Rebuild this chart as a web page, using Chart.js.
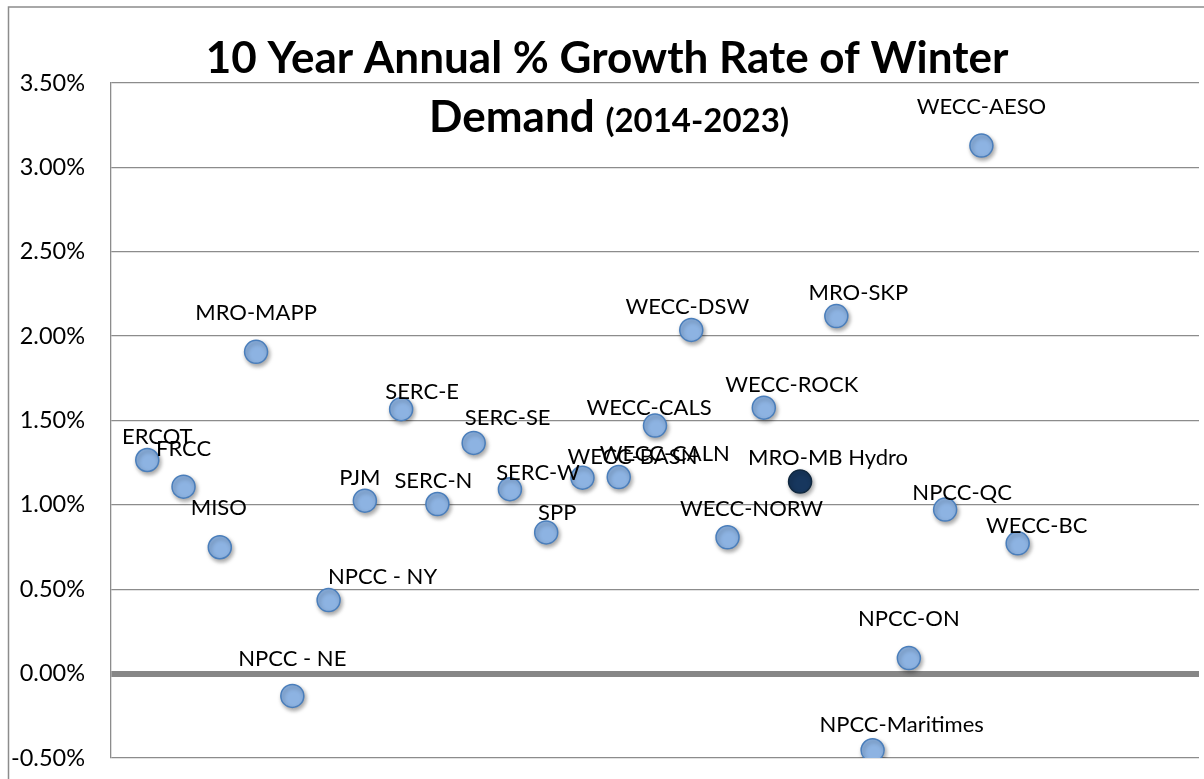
<!DOCTYPE html>
<html>
<head>
<meta charset="utf-8">
<script src="https://cdn.jsdelivr.net/npm/chart.js@4/dist/chart.umd.min.js"></script>
<style>
  html, body { margin: 0; padding: 0; background: #ffffff; overflow: hidden; }
  #c { display: block; }
</style>
</head>
<body>
<canvas id="c" width="1204" height="779"></canvas>
<script>
// ---- data ----
const categories = ['ERCOT','FRCC','MISO','MRO-MAPP','NPCC - NE','NPCC - NY','PJM','SERC-E','SERC-N','SERC-SE','SERC-W','SPP','WECC-BASN','WECC-CALN','WECC-CALS','WECC-DSW','WECC-NORW','WECC-ROCK','MRO-MB Hydro','MRO-SKP','NPCC-Maritimes','NPCC-ON','NPCC-QC','WECC-AESO','WECC-BC'];
const xPositions = [1,2,3,4,5,6,7,8,9,10,11,12,13,14,15,16,17,18,19,20,21,22,23,24,25];
const growthRates = [1.266,1.108,0.749,1.907,-0.132,0.436,1.025,1.567,1.005,1.367,1.093,0.837,1.161,1.165,1.470,2.037,0.808,1.576,1.138,2.119,-0.454,0.092,0.972,3.129,0.772];
const highlighted = ['MRO-MB Hydro'];
const titleLine1 = '10 Year Annual % Growth Rate of Winter';
const titleLine2a = 'Demand ';
const titleLine2b = '(2014-2023)';

// ---- label placement (style, not data) ----
const labelOffsets = [[10,-24],[0,-39],[-1,-40],[0,-40],[0,-38],[54,-24],[-5,-24],[21,-18],[-4,-24],[34,-26],[28,-17],[11,-20],[50,-22],[46,-24],[-6,-19],[-4,-24],[24,-29],[28,-24],[28,-25],[22,-24],[29,-26],[0,-40],[17,-18],[0,-40],[19,-18]];

const FONT = 'Lato, "Open Sans", sans-serif';
const LIGHT_FILL = '#8DB3E2', LIGHT_BORDER = '#4A7EBB';
const DARK_FILL = '#17375E', DARK_BORDER = '#10283F';

const points = xPositions.map((x, i) => ({ x: x, y: growthRates[i] }));

const framePlugin = {
  id: 'frame',
  beforeDraw(chart) {
    const ctx = chart.ctx;
    ctx.save();
    ctx.strokeStyle = '#8C8C8C';
    ctx.lineWidth = 1.5;
    ctx.beginPath();
    ctx.moveTo(8.5, chart.height + 2);
    ctx.lineTo(8.5, 7);
    ctx.lineTo(chart.width + 2, 7);
    ctx.stroke();
    ctx.restore();
  }
};

const shadowPlugin = {
  id: 'shadow',
  beforeDatasetsDraw(chart) {
    const ctx = chart.ctx;
    ctx.save();
    ctx.shadowColor = 'rgba(0,0,0,0.35)';
    ctx.shadowBlur = 4;
    ctx.shadowOffsetX = 1.5;
    ctx.shadowOffsetY = 2.5;
  },
  afterDatasetsDraw(chart) {
    chart.ctx.restore();
  }
};

const labelPlugin = {
  id: 'pointLabels',
  afterDatasetsDraw(chart) {
    const ctx = chart.ctx;
    const meta = chart.getDatasetMeta(0);
    ctx.save();
    ctx.font = '22px ' + FONT;
    ctx.fillStyle = '#000000';
    ctx.textAlign = 'center';
    ctx.textBaseline = 'alphabetic';
    meta.data.forEach((el, i) => {
      const off = labelOffsets[i];
      ctx.fillText(categories[i], el.x + off[0], el.y + off[1] + 8);
    });
    ctx.restore();
  }
};

const titlePlugin = {
  id: 'customTitle',
  afterDraw(chart) {
    const ctx = chart.ctx;
    ctx.save();
    ctx.fillStyle = '#000000';
    ctx.textBaseline = 'alphabetic';
    ctx.textAlign = 'left';
    const big = 'bold 44px ' + FONT;
    const small = 'bold 33px ' + FONT;
    ctx.font = big;
    const w1 = ctx.measureText(titleLine1).width;
    ctx.fillText(titleLine1, 607 - w1 / 2, 73);
    const wa = ctx.measureText(titleLine2a).width;
    ctx.font = small;
    const wb = ctx.measureText(titleLine2b).width;
    const start = 609 - (wa + wb) / 2;
    ctx.font = big;
    ctx.fillText(titleLine2a, start, 132);
    ctx.font = small;
    ctx.fillText(titleLine2b, start + wa, 132);
    ctx.restore();
  }
};

new Chart(document.getElementById('c'), {
  type: 'scatter',
  data: {
    datasets: [{
      data: points,
      pointRadius: 11.5,
      pointHoverRadius: 11.5,
      pointBorderWidth: 1.5,
      backgroundColor: categories.map(c => highlighted.includes(c) ? DARK_FILL : LIGHT_FILL),
      borderColor: categories.map(c => highlighted.includes(c) ? DARK_BORDER : LIGHT_BORDER)
    }]
  },
  options: {
    responsive: false,
    animation: false,
    devicePixelRatio: 1,
    layout: { autoPadding: false, padding: { left: 0, top: 83, right: 5, bottom: 21 } },
    plugins: {
      legend: { display: false },
      tooltip: { enabled: false },
      title: { display: false }
    },
    scales: {
      x: {
        type: 'linear',
        display: false,
        min: 0,
        max: 30
      },
      y: {
        type: 'linear',
        min: -0.5,
        max: 3.5,
        afterFit(scale) {
          scale.width = 111;
          scale.paddingTop = 0;
          scale.paddingBottom = 0;
        },
        ticks: {
          stepSize: 0.5,
          padding: 26,
          color: '#000000',
          font: { family: FONT, size: 23.5 },
          callback: v => v.toFixed(2) + '%'
        },
        grid: {
          drawTicks: false,
          color: ctx => ctx.tick && ctx.tick.value === 0 ? '#878787' : '#8C8C8C',
          lineWidth: ctx => ctx.tick && ctx.tick.value === 0 ? 6 : 1.3
        },
        border: { display: true, color: '#8C8C8C', width: 1.3 }
      }
    }
  },
  plugins: [framePlugin, shadowPlugin, labelPlugin, titlePlugin]
});
</script>
</body>
</html>
